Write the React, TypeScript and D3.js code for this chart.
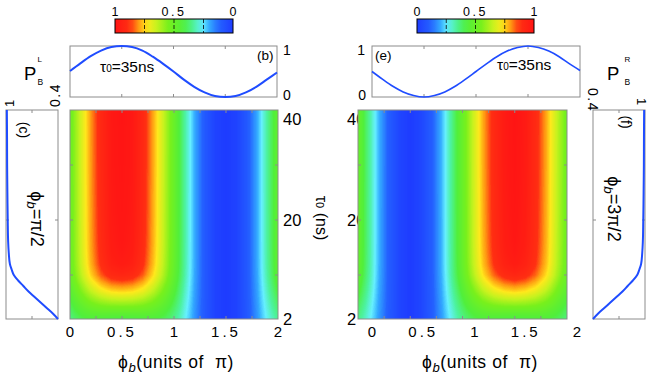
import React, { useMemo } from 'react'
import * as d3 from 'd3'

// phase samples (units of pi) and the two line cuts at tau0 = 35 ns
const phiVals = [0, 0.1, 0.2, 0.3, 0.4, 0.5, 0.6, 0.7, 0.8, 0.9, 1, 1.1, 1.2, 1.3, 1.4, 1.5, 1.6, 1.7, 1.8, 1.9, 2]
const pbVals = [0.51, 0.66, 0.8, 0.91, 0.98, 1.0, 0.98, 0.91, 0.79, 0.65, 0.5, 0.34, 0.2, 0.09, 0.02, 0.0, 0.02, 0.09, 0.2, 0.34, 0.48]
const peVals = [0.5, 0.35, 0.21, 0.1, 0.03, 0.0, 0.03, 0.1, 0.21, 0.35, 0.5, 0.65, 0.79, 0.9, 0.97, 1.0, 0.97, 0.9, 0.79, 0.65, 0.52]

// tau0 samples (ns) and the cuts at phi_b = pi/2 and 3pi/2
const tauVals = [2, 3, 4, 5, 6, 7, 8, 9, 10, 11, 12, 14, 16, 20, 25, 30, 35, 40]
const pcVals = [0.4, 0.46, 0.53, 0.6, 0.67, 0.74, 0.8, 0.86, 0.91, 0.935, 0.955, 0.968, 0.975, 0.98, 0.984, 0.987, 0.988, 0.99]
const pfVals = [0.4, 0.46, 0.53, 0.6, 0.67, 0.74, 0.8, 0.86, 0.91, 0.935, 0.955, 0.968, 0.975, 0.98, 0.984, 0.987, 0.988, 0.99]

const phiTicks = [0, 0.5, 1, 1.5, 2]
const phiMinor = [0.25, 0.5, 0.75, 1, 1.25, 1.5, 1.75]
const tauTicks = [2, 20, 40]
const tauMinor = [10, 20, 30]
const cbTicks = [0, 0.5, 1]

const colorDomain = [0, 0.12, 0.2, 0.26, 0.33, 0.42, 0.55, 0.65, 0.73, 0.8, 0.87, 1]
const colorRange = ['#1e3cff', '#2462ff', '#33aaff', '#66f0ff', '#4cf2a0', '#50ef3c', '#78f01c', '#c8f21e', '#ffe81c', '#ff9a12', '#ff3012', '#ff1414']

const font = 'Liberation Sans, Arial, Helvetica, sans-serif'
const frame = '#8c8c8c'
const lineBlue = '#1f4cff'
const nb = '\u00a0'

const color = d3.scaleLinear<string>().domain(colorDomain).range(colorRange).interpolate(d3.interpolateRgb).clamp(true)

const yT = d3.scaleLinear().domain([2, 40]).range([319, 110])
const xHL = d3.scaleLinear().domain([0, 2]).range([70, 278])
const xHR = d3.scaleLinear().domain([0, 2]).range([358, 567])
const xLabR = d3.scaleLinear().domain([0, 2]).range([372, 577])
const xB = d3.scaleLinear().domain([0, 2]).range([70, 277])
const xE = d3.scaleLinear().domain([0, 2]).range([372, 580])
const yP = d3.scaleLinear().domain([0, 1]).range([97, 46])
const xC = d3.scaleLinear().domain([0.4, 1]).range([58, 6])
const xF = d3.scaleLinear().domain([0.4, 1]).range([593, 645])
const cbL = d3.scaleLinear().domain([1, 0]).range([115, 233])
const cbR = d3.scaleLinear().domain([0, 1]).range([417, 534])

// map: row cut (phase) combined with the column cut (tau) of the same panel side
function heatImage(xs: d3.ScaleLinear<number, number>, row: number[], col: number[]) {
  const [x0, x1] = xs.range()
  const [y1, y0] = yT.range()
  const w = Math.round(x1 - x0)
  const h = Math.round(y1 - y0)
  const canvas = document.createElement('canvas')
  canvas.width = w
  canvas.height = h
  const ctx = canvas.getContext('2d')!
  const img = ctx.createImageData(w, h)
  const rowS = d3.scaleLinear().domain(phiVals).range(row)
  const colS = d3.scaleLinear().domain(tauVals).range(col)
  const top = d3.max(col)!
  const lut = d3.range(256).map((k) => d3.rgb(color(k / 255)))
  for (let j = 0; j < h; j++) {
    const c = colS(yT.invert(y0 + j + 0.5)) / top
    for (let i = 0; i < w; i++) {
      const p = rowS(xs.invert(x0 + i + 0.5))
      const v = p * (1 - (1 - c) * p)
      const q = lut[Math.max(0, Math.min(255, Math.round(v * 255)))]
      const o = (j * w + i) * 4
      img.data[o] = q.r
      img.data[o + 1] = q.g
      img.data[o + 2] = q.b
      img.data[o + 3] = 255
    }
  }
  ctx.putImageData(img, 0, 0)
  return { url: canvas.toDataURL(), x: x0, y: y0, w, h }
}

const fmt = (v: number) => String(v)

function Phi({ size }: { size: number }) {
  return (
    <>
      <tspan>ϕ</tspan>
      <tspan fontStyle="italic" fontSize={size * 0.75} dy={size * 0.25}>b</tspan>
    </>
  )
}

export default function App() {
  const heatL = useMemo(() => heatImage(xHL, pbVals, pcVals), [])
  const heatR = useMemo(() => heatImage(xHR, peVals, pfVals), [])

  const lineB = d3.line<number>().x((_, i) => xB(phiVals[i])).y((d) => yP(d)).curve(d3.curveMonotoneX)
  const lineE = d3.line<number>().x((_, i) => xE(phiVals[i])).y((d) => yP(d)).curve(d3.curveMonotoneX)
  const lineC = d3.line<number>().x((d) => xC(d)).y((_, i) => yT(tauVals[i])).curve(d3.curveMonotoneY)
  const lineF = d3.line<number>().x((d) => xF(d)).y((_, i) => yT(tauVals[i])).curve(d3.curveMonotoneY)

  const cbStops = d3.range(0, 1.0001, 0.05)

  const tauLabelY = (t: number) => (t === 40 ? yT(t) + 9 : yT(t))

  return (
    <svg width={652} height={374} style={{ position: 'absolute', left: 0, top: 0, background: '#fff' }} fontFamily={font}>
      <defs>
        <linearGradient id="cbl" x1="0" x2="1" y1="0" y2="0">
          {cbStops.map((s) => (
            <stop key={s} offset={s} stopColor={color(1 - s)} />
          ))}
        </linearGradient>
        <linearGradient id="cbr" x1="0" x2="1" y1="0" y2="0">
          {cbStops.map((s) => (
            <stop key={s} offset={s} stopColor={color(s)} />
          ))}
        </linearGradient>
      </defs>

      {/* colorbars */}
      {[
        { s: cbL, id: 'cbl' },
        { s: cbR, id: 'cbr' },
      ].map(({ s, id }) => {
        const [a, b] = d3.extent(s.range()) as [number, number]
        return (
          <g key={id}>
            <rect x={a} y={19} width={b - a} height={14} fill={`url(#${id})`} stroke="#000" strokeWidth={1} />
            {[0.25, 0.5, 0.75].map((t) => (
              <line key={t} x1={s(t)} x2={s(t)} y1={19} y2={33} stroke="#000" strokeDasharray="4,2" strokeWidth={0.8} />
            ))}
            {cbTicks.map((t) => (
              <text key={t} x={s(t)} y={16} fontSize={12.5} textAnchor="middle" letterSpacing={t === 0.5 ? 2.5 : 0}>
                {fmt(t)}
              </text>
            ))}
          </g>
        )
      })}

      {/* panel (b) */}
      <rect x={70} y={46} width={207} height={51} fill="none" stroke={frame} />
      {[0.5, 1, 1.5].map((t) => (
        <g key={t} stroke={frame}>
          <line x1={xB(t)} x2={xB(t)} y1={46} y2={49} />
          <line x1={xB(t)} x2={xB(t)} y1={97} y2={94} />
        </g>
      ))}
      <path d={lineB(pbVals) || ''} fill="none" stroke={lineBlue} strokeWidth={2} />
      <text x={100} y={72} fontSize={15.5}>
        τ<tspan fontSize={10}>0</tspan>=35ns
      </text>
      <text x={257} y={60} fontSize={13.5}>(b)</text>
      <text x={283} y={55} fontSize={14}>1</text>
      <text x={283} y={100} fontSize={14}>0</text>
      <text x={24} y={80} fontSize={18.5}>P</text>
      <text x={37.5} y={62} fontSize={8}>L</text>
      <text x={37.5} y={85} fontSize={8.5}>B</text>

      {/* panel (e) */}
      <rect x={372} y={46} width={208} height={51} fill="none" stroke={frame} />
      {[0.5, 1, 1.5].map((t) => (
        <g key={t} stroke={frame}>
          <line x1={xE(t)} x2={xE(t)} y1={46} y2={49} />
          <line x1={xE(t)} x2={xE(t)} y1={97} y2={94} />
        </g>
      ))}
      <path d={lineE(peVals) || ''} fill="none" stroke={lineBlue} strokeWidth={1.6} />
      <text x={497} y={70} fontSize={15.5}>
        τ<tspan fontSize={10}>0</tspan>=35ns
      </text>
      <text x={375} y={60} fontSize={13.5}>(e)</text>
      <text x={365} y={55} fontSize={14} textAnchor="end">1</text>
      <text x={366} y={100} fontSize={14} textAnchor="end">0</text>
      <text x={607} y={80} fontSize={18.5}>P</text>
      <text x={624.5} y={62} fontSize={8}>R</text>
      <text x={624.5} y={85} fontSize={8.5}>B</text>

      {/* left heat map */}
      <image href={heatL.url} x={heatL.x} y={heatL.y} width={heatL.w} height={heatL.h} preserveAspectRatio="none" />
      <rect x={heatL.x} y={heatL.y} width={heatL.w} height={heatL.h} fill="none" stroke={frame} />
      {phiMinor.map((t) => (
        <g key={t} stroke={frame}>
          <line x1={xHL(t)} x2={xHL(t)} y1={110} y2={113} />
          <line x1={xHL(t)} x2={xHL(t)} y1={319} y2={316} />
        </g>
      ))}
      {tauMinor.map((t) => (
        <g key={t} stroke={frame}>
          <line x1={278} x2={275} y1={yT(t)} y2={yT(t)} />
          <line x1={70} x2={73} y1={yT(t)} y2={yT(t)} />
        </g>
      ))}
      {tauTicks.map((t) => (
        <text key={t} x={283} y={tauLabelY(t)} dy="0.36em" fontSize={16.5}>
          {fmt(t)}
        </text>
      ))}
      {phiTicks.map((t) => (
        <text key={t} x={xHL(t)} y={337} fontSize={15} textAnchor="middle" letterSpacing={String(t).includes('.') ? 3 : 0}>
          {fmt(t)}
        </text>
      ))}
      <text x={176} y={368} fontSize={17.5} textAnchor="middle" letterSpacing={0.6}>
        <Phi size={17.5} />
        <tspan dy={-17.5 * 0.25}>{`(units of${nb}${nb}π)`}</tspan>
      </text>

      {/* right heat map: labels first, the map covers part of them */}
      {tauTicks.map((t) => (
        <text key={t} x={347} y={tauLabelY(t)} dy="0.36em" fontSize={16.5}>
          {fmt(t)}
        </text>
      ))}
      <image href={heatR.url} x={heatR.x} y={heatR.y} width={heatR.w} height={heatR.h} preserveAspectRatio="none" />
      <rect x={heatR.x} y={heatR.y} width={heatR.w} height={heatR.h} fill="none" stroke={frame} />
      {phiMinor.map((t) => (
        <g key={t} stroke={frame}>
          <line x1={xHR(t)} x2={xHR(t)} y1={110} y2={113} />
          <line x1={xHR(t)} x2={xHR(t)} y1={319} y2={316} />
        </g>
      ))}
      {tauMinor.map((t) => (
        <g key={t} stroke={frame}>
          <line x1={358} x2={361} y1={yT(t)} y2={yT(t)} />
          <line x1={567} x2={564} y1={yT(t)} y2={yT(t)} />
        </g>
      ))}
      {phiTicks.map((t) => (
        <text key={t} x={xLabR(t)} y={337} fontSize={15} textAnchor="middle" letterSpacing={String(t).includes('.') ? 3 : 0}>
          {fmt(t)}
        </text>
      ))}
      <text x={480} y={368} fontSize={17.5} textAnchor="middle" letterSpacing={0.6}>
        <Phi size={17.5} />
        <tspan dy={-17.5 * 0.25}>{`(units of${nb}${nb}π)`}</tspan>
      </text>

      {/* tau axis title */}
      <text transform="translate(316,218) rotate(90)" fontSize={16} textAnchor="middle">
        τ<tspan fontSize={11}>0</tspan> (ns)
      </text>

      {/* panel (c) */}
      <rect x={6} y={110} width={52} height={209} fill="none" stroke={frame} />
      <g stroke={frame}>
        <line x1={xC(0.7)} x2={xC(0.7)} y1={110} y2={113} />
        <line x1={xC(0.7)} x2={xC(0.7)} y1={319} y2={316} />
        <line x1={58} x2={55} y1={yT(20)} y2={yT(20)} />
        <line x1={6} x2={9} y1={yT(20)} y2={yT(20)} />
      </g>
      <path d={lineC(pcVals) || ''} fill="none" stroke={lineBlue} strokeWidth={2} />
      <text transform="translate(14,107) rotate(-90)" fontSize={13}>1</text>
      <text transform="translate(60,107) rotate(-90)" fontSize={14} letterSpacing={1.5}>0.4</text>
      <text transform="translate(19,130) rotate(90)" fontSize={14} textAnchor="middle">(c)</text>
      <text transform="translate(31,219) rotate(90)" fontSize={18} textAnchor="middle">
        <Phi size={18} />
        <tspan dy={-18 * 0.25}>=π/2</tspan>
      </text>

      {/* panel (f) */}
      <rect x={593} y={110} width={52} height={209} fill="none" stroke={frame} />
      <g stroke={frame}>
        <line x1={xF(0.7)} x2={xF(0.7)} y1={110} y2={113} />
        <line x1={xF(0.7)} x2={xF(0.7)} y1={319} y2={316} />
        <line x1={593} x2={596} y1={yT(20)} y2={yT(20)} />
        <line x1={645} x2={642} y1={yT(20)} y2={yT(20)} />
      </g>
      <path d={lineF(pfVals) || ''} fill="none" stroke={lineBlue} strokeWidth={2} />
      <text transform="translate(588,88) rotate(90)" fontSize={14} letterSpacing={1.5}>0.4</text>
      <text transform="translate(637,98) rotate(90)" fontSize={13}>1</text>
      <text transform="translate(621,122) rotate(90)" fontSize={14} textAnchor="middle">(f)</text>
      <text transform="translate(608,209) rotate(90)" fontSize={18} textAnchor="middle">
        <Phi size={18} />
        <tspan dy={-18 * 0.25}>=3π/2</tspan>
      </text>
    </svg>
  )
}
